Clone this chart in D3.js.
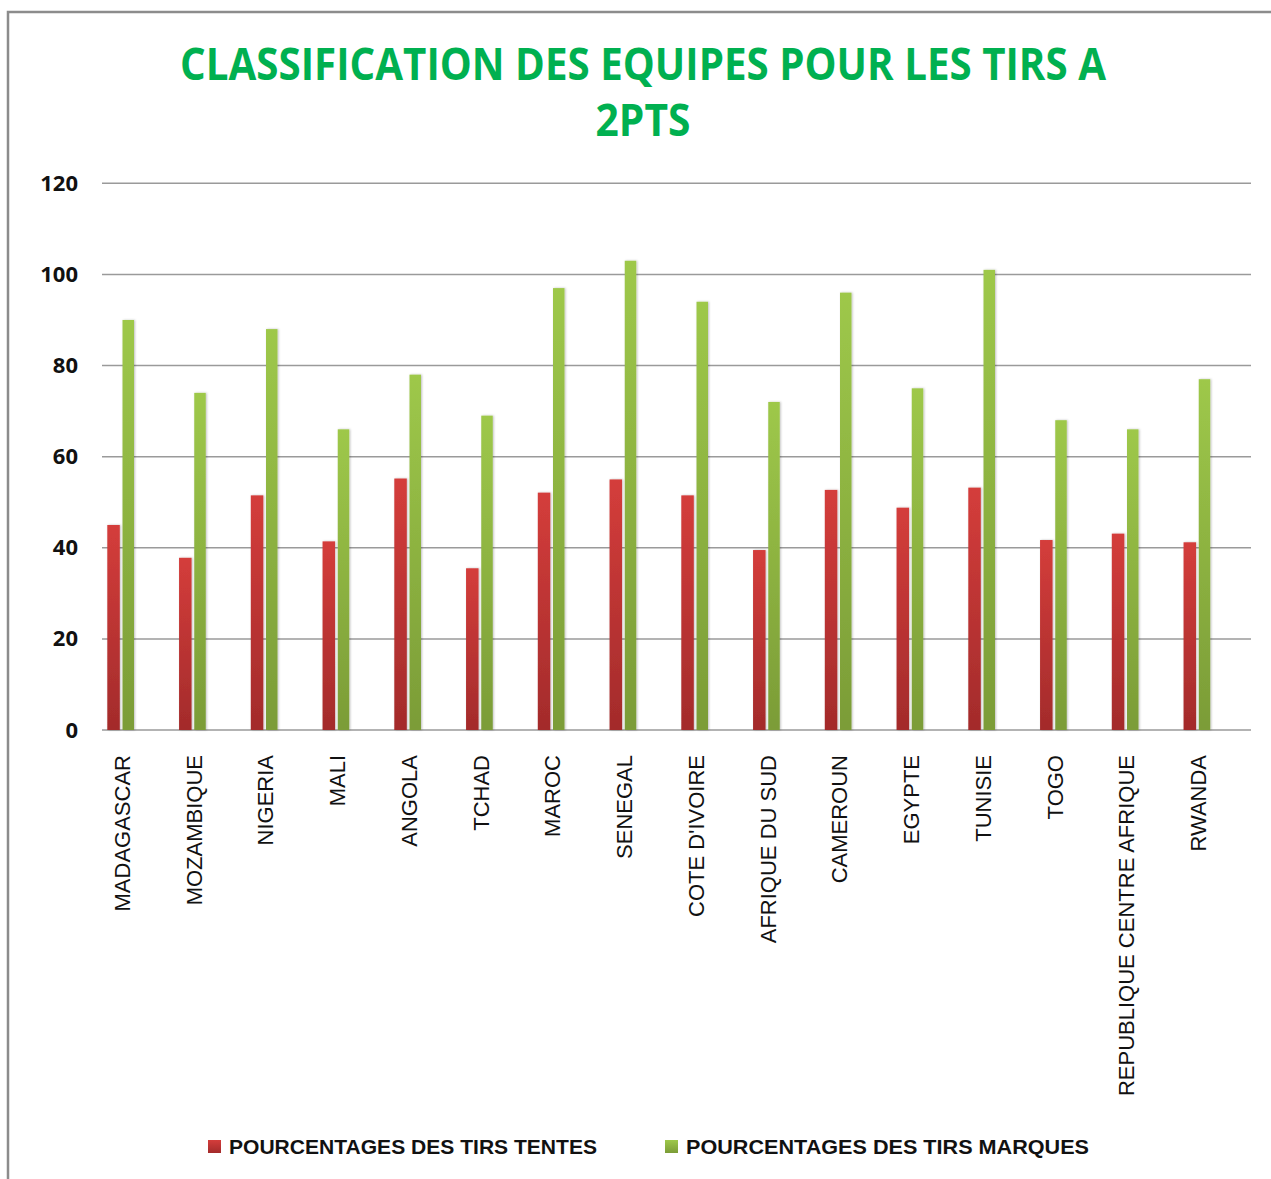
<html>
<script src="https://d3js.org/d3.v7.min.js"></script>
<style>
	body { margin: 0; background: #fff; }
	text { font-family: "Liberation Sans", Arial, sans-serif; }
</style>
<body>
	<svg id="chart" width="1271" height="1179"></svg>
	<script>
		// values
		const teams = ["MADAGASCAR", "MOZAMBIQUE", "NIGERIA", "MALI", "ANGOLA", "TCHAD", "MAROC", "SENEGAL",
			"COTE D'IVOIRE", "AFRIQUE DU SUD", "CAMEROUN", "EGYPTE", "TUNISIE", "TOGO",
			"REPUBLIQUE CENTRE AFRIQUE", "RWANDA"];
		const tentes = [45, 37.8, 51.5, 41.4, 55.2, 35.5, 52.1, 55, 51.5, 39.5, 52.7, 48.8, 53.2, 41.7, 43.1, 41.2];
		const marques = [90, 74, 88, 66, 78, 69, 97, 103, 94, 72, 96, 75, 101, 68, 66, 77];
		const yTicks = [0, 20, 40, 60, 80, 100, 120];
		const seriesNames = ["POURCENTAGES DES TIRS TENTES", "POURCENTAGES DES TIRS MARQUES"];

		const svg = d3.select("#chart");

		// outer frame of the chart (only left and top edges visible)
		svg.append("path")
			.attr("d", "M8,1179 L8,12 L1271,12")
			.attr("fill", "none")
			.attr("stroke", "#8c8c8c")
			.attr("stroke-width", 2.5);

		const defs = svg.append("defs");
		const gRed = defs.append("linearGradient").attr("id", "gradRed")
			.attr("x1", 0).attr("y1", 0).attr("x2", 0).attr("y2", 1);
		gRed.append("stop").attr("offset", "0%").attr("stop-color", "#d43d3b");
		gRed.append("stop").attr("offset", "100%").attr("stop-color", "#a32b2b");
		const gGreen = defs.append("linearGradient").attr("id", "gradGreen")
			.attr("x1", 0).attr("y1", 0).attr("x2", 0).attr("y2", 1);
		gGreen.append("stop").attr("offset", "0%").attr("stop-color", "#9ec84a");
		gGreen.append("stop").attr("offset", "100%").attr("stop-color", "#7b9c37");
		defs.append("filter").attr("id", "shadow")
			.attr("x", "-50%").attr("y", "-5%").attr("width", "200%").attr("height", "110%")
			.append("feDropShadow")
			.attr("dx", 1).attr("dy", 0).attr("stdDeviation", 1.2)
			.attr("flood-color", "#000").attr("flood-opacity", 0.25);

		const x = d3.scaleBand()
			.domain(teams)
			.range([103, 1251]);
		const y = d3.scaleLinear()
			.domain([0, 120])
			.range([730, 183.3]);

		// title: squeeze horizontally to mimic the narrow bold face
		const titleLines = [
			{ text: "CLASSIFICATION DES EQUIPES POUR LES TIRS A", y: 80, w: 926 },
			{ text: "2PTS", y: 136, w: 95 }
		];
		titleLines.forEach(l => {
			const t = svg.append("text")
				.attr("x", 0).attr("y", 0)
				.attr("text-anchor", "middle")
				.attr("fill", "#00b050")
				.style("font-family", "'Open Sans', sans-serif")
				.style("font-weight", "bold")
				.style("font-size", "45px")
				.text(l.text);
			const sx = l.w / t.node().getComputedTextLength();
			t.attr("transform", "translate(643," + l.y + ") scale(" + sx + ",1)");
		});

		// gridlines
		svg.append("g")
			.selectAll("line").data(yTicks).enter().append("line")
			.attr("x1", 102).attr("x2", 1251)
			.attr("y1", d => y(d)).attr("y2", d => y(d))
			.attr("stroke", "#9a9a9a")
			.attr("stroke-width", 1.5);

		// y axis labels
		svg.append("g")
			.attr("transform", "translate(102,0)")
			.call(d3.axisLeft(y).tickValues(yTicks).tickSize(0).tickPadding(24))
			.call(g => g.select(".domain").remove())
			.selectAll("text")
			.style("font-family", "'Open Sans', sans-serif")
			.style("font-size", "22px")
			.style("font-weight", "bold")
			.attr("fill", "#111");

		// bars
		svg.append("g").attr("filter", "url(#shadow)")
			.selectAll("rect").data(teams).enter().append("rect")
			.attr("x", d => x(d) + 4.3)
			.attr("width", 12.5)
			.attr("y", (d, i) => y(tentes[i]))
			.attr("height", (d, i) => y(0) - y(tentes[i]))
			.attr("fill", "url(#gradRed)");
		svg.append("g").attr("filter", "url(#shadow)")
			.selectAll("rect").data(teams).enter().append("rect")
			.attr("x", d => x(d) + 19.5)
			.attr("width", 11.5)
			.attr("y", (d, i) => y(marques[i]))
			.attr("height", (d, i) => y(0) - y(marques[i]))
			.attr("fill", "url(#gradGreen)");

		// category labels, rotated
		svg.append("g")
			.selectAll("text").data(teams).enter().append("text")
			.attr("transform", d => "translate(" + (x(d) + 19) + ",755) rotate(-90)")
			.attr("text-anchor", "end")
			.attr("dy", "0.36em")
			.style("font-size", "22px")
			.attr("fill", "#111")
			.text(d => d);

		// legend
		const legend = svg.append("g")
			.style("font-family", "'Open Sans', sans-serif")
			.style("font-size", "20px")
			.style("font-weight", "600");
		const legItems = [
			{ name: seriesNames[0], fill: "url(#gradRed)", x: 208, len: 368 },
			{ name: seriesNames[1], fill: "url(#gradGreen)", x: 665, len: 403 }
		];
		legItems.forEach(item => {
			legend.append("rect")
				.attr("x", item.x).attr("y", 1140)
				.attr("width", 13).attr("height", 13)
				.attr("fill", item.fill);
			legend.append("text")
				.attr("x", item.x + 21).attr("y", 1154)
				.attr("textLength", item.len).attr("lengthAdjust", "spacingAndGlyphs")
				.attr("fill", "#111")
				.text(item.name);
		});
	</script>
</body>
</html>
